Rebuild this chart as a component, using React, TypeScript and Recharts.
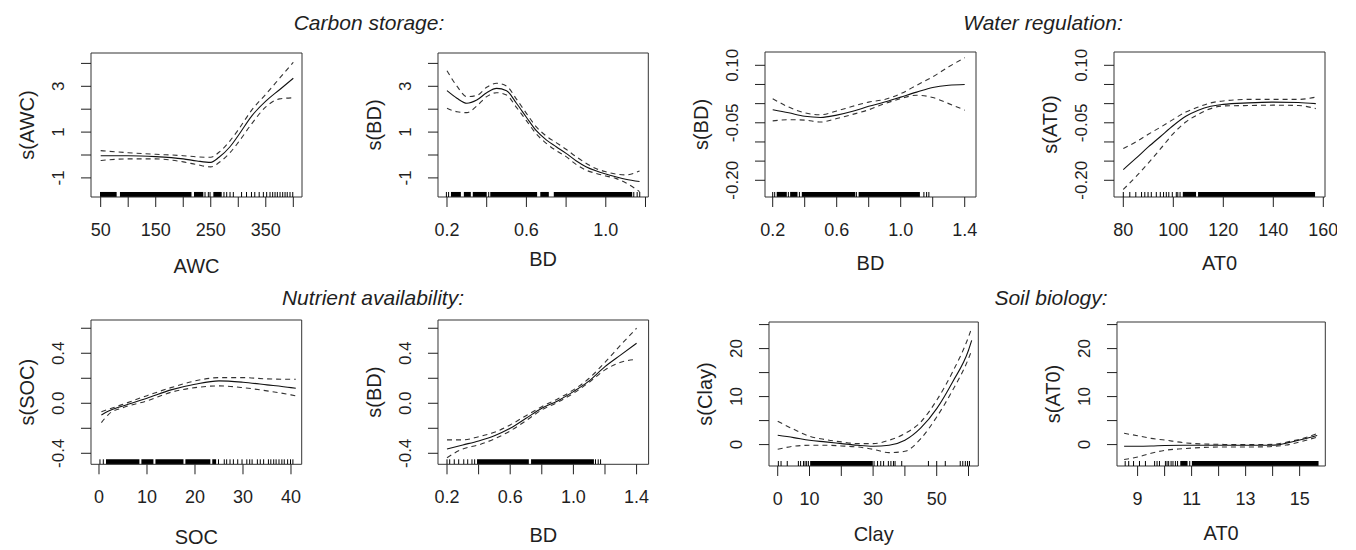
import React from 'react';
import { ComposedChart, Line, Scatter, XAxis, YAxis, ReferenceArea, Label } from 'recharts';

const FONT = '"Liberation Sans", Arial, Helvetica, sans-serif';
const INK = '#1f1f1f';

// Carbon storage: s(AWC)
const awcX = [50, 100, 150, 200, 225, 250, 265, 285, 300, 325, 350, 375, 400];
const awcFit = [-0.03, -0.03, -0.07, -0.17, -0.26, -0.32, -0.1, 0.36, 0.85, 1.72, 2.35, 2.85, 3.35];
const awcUpper = [0.19, 0.1, 0.03, -0.03, -0.08, -0.1, 0.12, 0.62, 1.1, 1.98, 2.65, 3.35, 4.05];
const awcLower = [-0.24, -0.17, -0.17, -0.3, -0.42, -0.52, -0.33, 0.1, 0.55, 1.38, 2.1, 2.45, 2.5];
const awcRug = [239.6, 245.6, 248.7, 274, 279, 285, 291, 306, 315, 324, 330, 338, 345.6, 351.6, 357.7, 362.5, 366.8, 371, 375.9, 380.7, 385, 389, 394, 399];
const awcRugBands = [[48.8, 79], [85, 215], [219.6, 236.5], [254.7, 269.9]];

// Carbon storage: s(BD)
const bdcX = [0.2, 0.25, 0.3, 0.35, 0.4, 0.45, 0.5, 0.55, 0.6, 0.65, 0.7, 0.75, 0.8, 0.85, 0.9, 0.95, 1.0, 1.05, 1.1, 1.17];
const bdcFit = [2.81, 2.48, 2.26, 2.4, 2.72, 2.91, 2.81, 2.26, 1.65, 1.06, 0.66, 0.36, 0.07, -0.25, -0.51, -0.69, -0.83, -0.95, -1.06, -1.16];
const bdcUpper = [3.68, 3.01, 2.55, 2.6, 2.96, 3.13, 3.01, 2.44, 1.82, 1.23, 0.83, 0.54, 0.25, -0.07, -0.36, -0.59, -0.73, -0.83, -0.87, -0.7];
const bdcLower = [2.04, 1.89, 1.85, 2.14, 2.55, 2.72, 2.62, 2.08, 1.5, 0.92, 0.51, 0.19, -0.07, -0.41, -0.66, -0.8, -0.92, -1.02, -1.21, -1.6];
const bdcRug = [0.197, 0.208, 0.41, 1.141, 1.158, 1.171];
const bdcRugBands = [[0.22, 0.27], [0.285, 0.32], [0.33, 0.4], [0.418, 0.654], [0.67, 0.713], [0.738, 1.133]];

// Water regulation: s(BD)
const bdwX = [0.2, 0.3, 0.4, 0.5, 0.6, 0.7, 0.8, 0.9, 1.0, 1.1, 1.2, 1.3, 1.4];
const bdwFit = [-0.016, -0.024, -0.033, -0.036, -0.03, -0.02, -0.007, 0.004, 0.017, 0.03, 0.042, 0.048, 0.05];
const bdwUpper = [0.013, -0.009, -0.024, -0.029, -0.019, -0.007, 0.004, 0.011, 0.026, 0.048, 0.07, 0.096, 0.12];
const bdwLower = [-0.045, -0.042, -0.043, -0.048, -0.039, -0.028, -0.016, 0.0, 0.013, 0.022, 0.016, 0.0, -0.017];
const bdwRug = [0.2, 0.2125, 0.298, 0.367, 0.723, 1.145, 1.162, 1.176];
const bdwRugBands = [[0.225, 0.288], [0.309, 0.355], [0.382, 0.716], [0.737, 1.12]];

// Water regulation: s(AT0)
const atwX = [80, 85, 90, 95, 100, 105, 110, 115, 120, 130, 140, 150, 157];
const atwFit = [-0.172, -0.143, -0.113, -0.085, -0.057, -0.033, -0.017, -0.007, -0.002, 0.002, 0.004, 0.003, 0.0];
const atwUpper = [-0.117, -0.1, -0.08, -0.061, -0.041, -0.022, -0.009, 0.002, 0.007, 0.011, 0.011, 0.011, 0.017];
const atwLower = [-0.224, -0.191, -0.155, -0.117, -0.078, -0.048, -0.028, -0.013, -0.006, -0.005, -0.004, -0.005, -0.013];
const atwRug = [80, 82.6, 85, 87.3, 88.6, 89.9, 91.2, 93.2, 94.8, 96.1, 97.2, 98.2, 99.6, 101.2, 101.8, 102.7];
const atwRugBands = [[103.8, 109.1], [109.9, 156.7]];

// Nutrient availability: s(SOC)
const socX = [0.5, 2, 5, 10, 15, 20, 25, 30, 35, 40, 41];
const socFit = [-0.093, -0.061, -0.021, 0.04, 0.107, 0.152, 0.179, 0.168, 0.147, 0.125, 0.12];
const socUpper = [-0.067, -0.048, -0.008, 0.061, 0.125, 0.179, 0.205, 0.205, 0.195, 0.192, 0.192];
const socLower = [-0.155, -0.088, -0.035, 0.019, 0.088, 0.125, 0.139, 0.125, 0.099, 0.067, 0.059];
const socRug = [0.2, 0.9, 24.9, 26.1, 26.6, 27.3, 28.0, 28.9, 29.8, 30.8, 31.4, 31.9, 33.0, 33.6, 34.3, 35.3, 35.8, 36.4, 36.9, 37.5, 38.1, 38.6, 39.3, 39.9, 40.4];
const socRugBands = [[1.46, 8.42], [8.83, 11.34], [11.76, 17.6], [18.0, 23.2], [23.6, 24.4]];

// Nutrient availability: s(BD)
const bdnX = [0.2, 0.3, 0.4, 0.5, 0.6, 0.7, 0.8, 0.9, 1.0, 1.1, 1.2, 1.3, 1.4];
const bdnFit = [-0.365, -0.333, -0.301, -0.259, -0.2, -0.12, -0.04, 0.019, 0.093, 0.179, 0.293, 0.387, 0.48];
const bdnUpper = [-0.293, -0.293, -0.267, -0.232, -0.173, -0.099, -0.027, 0.035, 0.107, 0.2, 0.328, 0.467, 0.6];
const bdnLower = [-0.435, -0.365, -0.333, -0.285, -0.221, -0.139, -0.053, 0.008, 0.08, 0.168, 0.267, 0.328, 0.352];
const bdnRug = [0.2, 0.217, 0.246, 0.274, 0.306, 0.331, 0.358, 0.375, 1.14, 1.157, 1.172];
const bdnRugBands = [[0.39, 0.718], [0.732, 1.13]];

// Soil biology: s(Clay)
const clayX = [0, 5, 10, 15, 20, 25, 30, 35, 40, 45, 50, 55, 60, 61];
const clayFit = [1.94, 1.46, 0.9, 0.56, 0.21, -0.14, -0.35, -0.14, 0.9, 3.47, 7.5, 13.06, 19.65, 21.7];
const clayUpper = [4.86, 3.19, 1.74, 1.04, 0.56, 0.21, 0.21, 0.9, 2.29, 4.72, 9.24, 15.14, 22.43, 24.3];
const clayLower = [-0.97, -0.35, -0.14, -0.14, -0.28, -0.49, -0.97, -1.67, -1.39, 1.25, 5.76, 11.32, 17.92, 19.65];
const clayRug = [0.2, 1.05, 3.0, 6.5, 7.2, 8.1, 8.6, 9.1, 9.65, 30.3, 31.4, 32.4, 33.3, 34.8, 35.6, 36.4, 36.9, 39.0, 47.4, 50.0, 52.7, 57.4, 58.2, 59.0, 59.7, 60.3];
const clayRugBands = [[10.2, 29.9]];

// Soil biology: s(AT0)
const atsX = [8.5, 9, 9.5, 10, 10.7, 11.3, 12, 12.6, 13.2, 13.8, 14.2, 14.5, 15, 15.65];
const atsFit = [-0.35, -0.35, -0.3, -0.2, -0.15, -0.15, -0.15, -0.15, -0.15, -0.15, -0.05, 0.3, 0.95, 1.9];
const atsUpper = [2.35, 1.85, 1.3, 0.95, 0.4, 0.15, 0.06, 0.0, 0.0, 0.02, 0.15, 0.5, 1.1, 2.3];
const atsLower = [-3.1, -2.6, -1.8, -1.2, -0.85, -0.63, -0.5, -0.49, -0.49, -0.45, -0.3, -0.1, 0.55, 1.55];
const atsRug = [8.54, 8.67, 8.85, 9.07, 9.29, 9.63, 9.72, 9.81, 10.03, 10.09, 10.15, 10.24, 10.31, 10.4, 10.48, 10.93];
const atsRugBands = [[10.58, 10.85], [11.01, 15.7]];

// axis ticks and the labels R kept (blank = tick without label)
const carbonYTicks = [-1, 0, 1, 2, 3, 4];
const carbonYLabels = ['-1', '', '1', '', '3', ''];
const waterYTicks = [-0.2, -0.15, -0.1, -0.05, 0, 0.05, 0.1];
const waterYLabels = ['-0.20', '', '', '-0.05', '', '', '0.10'];
const nutrientYTicks = [-0.4, -0.2, 0, 0.2, 0.4, 0.6];
const nutrientYLabels = ['-0.4', '', '0.0', '', '0.4', ''];
const biologyYTicks = [0, 5, 10, 15, 20, 25];
const biologyYLabels = ['0', '', '10', '', '20', ''];

const awcXTicks = [50, 100, 150, 200, 250, 300, 350, 400];
const awcXLabels = ['50', '', '150', '', '250', '', '350', ''];
const bdShortTicks = [0.2, 0.4, 0.6, 0.8, 1.0, 1.2];
const bdShortLabels = ['0.2', '', '0.6', '', '1.0', ''];
const bdLongTicks = [0.2, 0.4, 0.6, 0.8, 1.0, 1.2, 1.4];
const bdLongLabels = ['0.2', '', '0.6', '', '1.0', '', '1.4'];
const atwXTicks = [80, 100, 120, 140, 160];
const atwXLabels = ['80', '100', '120', '140', '160'];
const socXTicks = [0, 10, 20, 30, 40];
const socXLabels = ['0', '10', '20', '30', '40'];
const clayXTicks = [0, 10, 20, 30, 40, 50, 60];
const clayXLabels = ['0', '10', '', '30', '', '50', ''];
const atsXTicks = [9, 10, 11, 12, 13, 14, 15];
const atsXLabels = ['9', '', '11', '', '13', '', '15'];

const groupTitles = [
  { text: 'Carbon storage:', cx: 369, cy: 23 },
  { text: 'Water regulation:', cx: 1043, cy: 23 },
  { text: 'Nutrient availability:', cx: 373, cy: 298 },
  { text: 'Soil biology:', cx: 1051, cy: 298 },
];

const toRows = (xs: number[], ys: number[]) => xs.map((x, i) => ({ x, y: ys[i] }));

const panels = [
  {
    id: 'awc', xName: 'AWC', yName: 's(AWC)', xs: awcX, fit: awcFit, upper: awcUpper, lower: awcLower,
    rug: awcRug, bands: awcRugBands, xTicks: awcXTicks, xLabels: awcXLabels, yTicks: carbonYTicks, yLabels: carbonYLabels,
    xDomain: [32.4, 415.8], yDomain: [-1.834, 4.454], box: { left: 91, top: 53, right: 302, bottom: 197 }, titleDy: 69,
  },
  {
    id: 'bdc', xName: 'BD', yName: 's(BD)', xs: bdcX, fit: bdcFit, upper: bdcUpper, lower: bdcLower,
    rug: bdcRug, bands: bdcRugBands, xTicks: bdShortTicks, xLabels: bdShortLabels, yTicks: carbonYTicks, yLabels: carbonYLabels,
    xDomain: [0.1547, 1.2141], yDomain: [-1.834, 4.454], box: { left: 437.7, top: 53, right: 648, bottom: 197 }, titleDy: 62,
  },
  {
    id: 'bdw', xName: 'BD', yName: 's(BD)', xs: bdwX, fit: bdwFit, upper: bdwUpper, lower: bdwLower,
    rug: bdwRug, bands: bdwRugBands, xTicks: bdLongTicks, xLabels: bdLongLabels, yTicks: waterYTicks, yLabels: waterYLabels,
    xDomain: [0.1519, 1.4706], yDomain: [-0.2436, 0.1347], box: { left: 765, top: 51.7, right: 976, bottom: 196.7 }, titleDy: 66,
  },
  {
    id: 'atw', xName: 'AT0', yName: 's(AT0)', xs: atwX, fit: atwFit, upper: atwUpper, lower: atwLower,
    rug: atwRug, bands: atwRugBands, xTicks: atwXTicks, xLabels: atwXLabels, yTicks: waterYTicks, yLabels: waterYLabels,
    xDomain: [76.28, 160.68], yDomain: [-0.2436, 0.1347], box: { left: 1114, top: 51.7, right: 1325, bottom: 196.7 }, titleDy: 66,
  },
  {
    id: 'soc', xName: 'SOC', yName: 's(SOC)', xs: socX, fit: socFit, upper: socUpper, lower: socLower,
    rug: socRug, bands: socRugBands, xTicks: socXTicks, xLabels: socXLabels, yTicks: nutrientYTicks, yLabels: nutrientYLabels,
    xDomain: [-1.667, 42.23], yDomain: [-0.488, 0.666], box: { left: 91, top: 320, right: 301.7, bottom: 464.3 }, titleDy: 73,
  },
  {
    id: 'bdn', xName: 'BD', yName: 's(BD)', xs: bdnX, fit: bdnFit, upper: bdnUpper, lower: bdnLower,
    rug: bdnRug, bands: bdnRugBands, xTicks: bdLongTicks, xLabels: bdLongLabels, yTicks: nutrientYTicks, yLabels: nutrientYLabels,
    xDomain: [0.143, 1.476], yDomain: [-0.488, 0.666], box: { left: 437.7, top: 320, right: 648.3, bottom: 464.3 }, titleDy: 71,
  },
  {
    id: 'clay', xName: 'Clay', yName: 's(Clay)', xs: clayX, fit: clayFit, upper: clayUpper, lower: clayLower,
    rug: clayRug, bands: clayRugBands, xTicks: clayXTicks, xLabels: clayXLabels, yTicks: biologyYTicks, yLabels: biologyYLabels,
    xDomain: [-2.74, 63.08], yDomain: [-4.46, 25.54], box: { left: 769, top: 321.7, right: 978.3, bottom: 465.7 }, titleDy: 68,
  },
  {
    id: 'ats', xName: 'AT0', yName: 's(AT0)', xs: atsX, fit: atsFit, upper: atsUpper, lower: atsLower,
    rug: atsRug, bands: atsRugBands, xTicks: atsXTicks, xLabels: atsXLabels, yTicks: biologyYTicks, yLabels: biologyYLabels,
    xDomain: [8.237, 15.95], yDomain: [-4.46, 25.54], box: { left: 1116.7, top: 321.7, right: 1325, bottom: 465.7 }, titleDy: 67,
  },
];

type PanelDef = (typeof panels)[number];

const Y_AXIS_W = 80;
const TOP_PAD = 12;
const RIGHT_PAD = 12;
const X_AXIS_H = 85;

const GamPanel = ({ p }: { p: PanelDef }) => {
  const boxW = p.box.right - p.box.left;
  const boxH = p.box.bottom - p.box.top;
  const [yMin, yMax] = p.yDomain;
  const rugTop = yMin + 0.035 * (yMax - yMin);
  const rugRows = p.rug.map((x) => ({ x, y: yMin }));

  const xTick = (props: any) => {
    const label = p.xLabels[p.xTicks.indexOf(props.payload.value)];
    if (!label) return <g />;
    return (
      <text x={props.x} y={props.y + 23} textAnchor="middle" dominantBaseline="central"
        fontSize={18} fontFamily={FONT} fill={INK}>{label}</text>
    );
  };

  const yTick = (props: any) => {
    const label = p.yLabels[p.yTicks.indexOf(props.payload.value)];
    if (!label) return <g />;
    const cx = props.x - 22;
    return (
      <text x={cx} y={props.y} transform={`rotate(-90 ${cx} ${props.y})`} textAnchor="middle"
        dominantBaseline="central" fontSize={17} fontFamily={FONT} fill={INK}>{label}</text>
    );
  };

  const xTitle = (props: any) => {
    const vb = props.viewBox;
    return (
      <text x={vb.x + vb.width / 2} y={vb.y + p.titleDy} textAnchor="middle" dominantBaseline="central"
        fontSize={20} fontFamily={FONT} fill={INK}>{p.xName}</text>
    );
  };

  const yTitle = (props: any) => {
    const vb = props.viewBox;
    const cx = vb.x + vb.width - 64;
    const cy = vb.y + vb.height / 2;
    return (
      <text x={cx} y={cy} transform={`rotate(-90 ${cx} ${cy})`} textAnchor="middle" dominantBaseline="central"
        fontSize={20} fontFamily={FONT} fill={INK}>{p.yName}</text>
    );
  };

  return (
    <div style={{ position: 'absolute', left: p.box.left - Y_AXIS_W, top: p.box.top - TOP_PAD }}>
      <ComposedChart
        width={Y_AXIS_W + boxW + RIGHT_PAD}
        height={TOP_PAD + boxH + X_AXIS_H}
        margin={{ top: TOP_PAD, right: RIGHT_PAD, left: 0, bottom: 0 }}
      >
        <XAxis
          type="number" dataKey="x" domain={p.xDomain} allowDataOverflow ticks={p.xTicks} interval={0}
          height={X_AXIS_H} axisLine={false} tickLine={{ stroke: INK }} tickSize={10} tickMargin={0} tick={xTick}
        >
          <Label content={xTitle} />
        </XAxis>
        <YAxis
          type="number" dataKey="y" domain={p.yDomain} allowDataOverflow ticks={p.yTicks} interval={0}
          width={Y_AXIS_W} axisLine={false} tickLine={{ stroke: INK }} tickSize={10} tickMargin={0} tick={yTick}
        >
          <Label content={yTitle} />
        </YAxis>
        {p.bands.map(([a, b], i) => (
          <ReferenceArea key={`band-${i}`} x1={a} x2={b} y1={yMin} y2={rugTop} fill="#000" fillOpacity={1} stroke="none" />
        ))}
        <Scatter
          data={rugRows} isAnimationActive={false}
          shape={(s: any) => <line x1={s.cx} x2={s.cx} y1={s.cy} y2={s.cy - 5} stroke="#000" strokeWidth={1} />}
        />
        <Line data={toRows(p.xs, p.upper)} dataKey="y" type="monotone" stroke="#333" strokeWidth={1.1}
          strokeDasharray="5 4" dot={false} activeDot={false} isAnimationActive={false} />
        <Line data={toRows(p.xs, p.lower)} dataKey="y" type="monotone" stroke="#333" strokeWidth={1.1}
          strokeDasharray="5 4" dot={false} activeDot={false} isAnimationActive={false} />
        <Line data={toRows(p.xs, p.fit)} dataKey="y" type="monotone" stroke="#111" strokeWidth={1.1}
          dot={false} activeDot={false} isAnimationActive={false} />
        <ReferenceArea x1={p.xDomain[0]} x2={p.xDomain[1]} y1={yMin} y2={yMax} fill="none" stroke="#333" strokeWidth={1} />
      </ComposedChart>
    </div>
  );
};

export default function App() {
  return (
    <div style={{ position: 'absolute', left: 0, top: 0, width: 1356, height: 550, background: '#fff', fontFamily: FONT }}>
      {groupTitles.map((t) => (
        <div key={t.text} style={{
          position: 'absolute', left: t.cx - 200, width: 400, top: t.cy - 12, lineHeight: '24px',
          textAlign: 'center', fontSize: 21, fontStyle: 'italic', color: INK,
        }}>{t.text}</div>
      ))}
      {panels.map((p) => <GamPanel key={p.id} p={p} />)}
    </div>
  );
}
